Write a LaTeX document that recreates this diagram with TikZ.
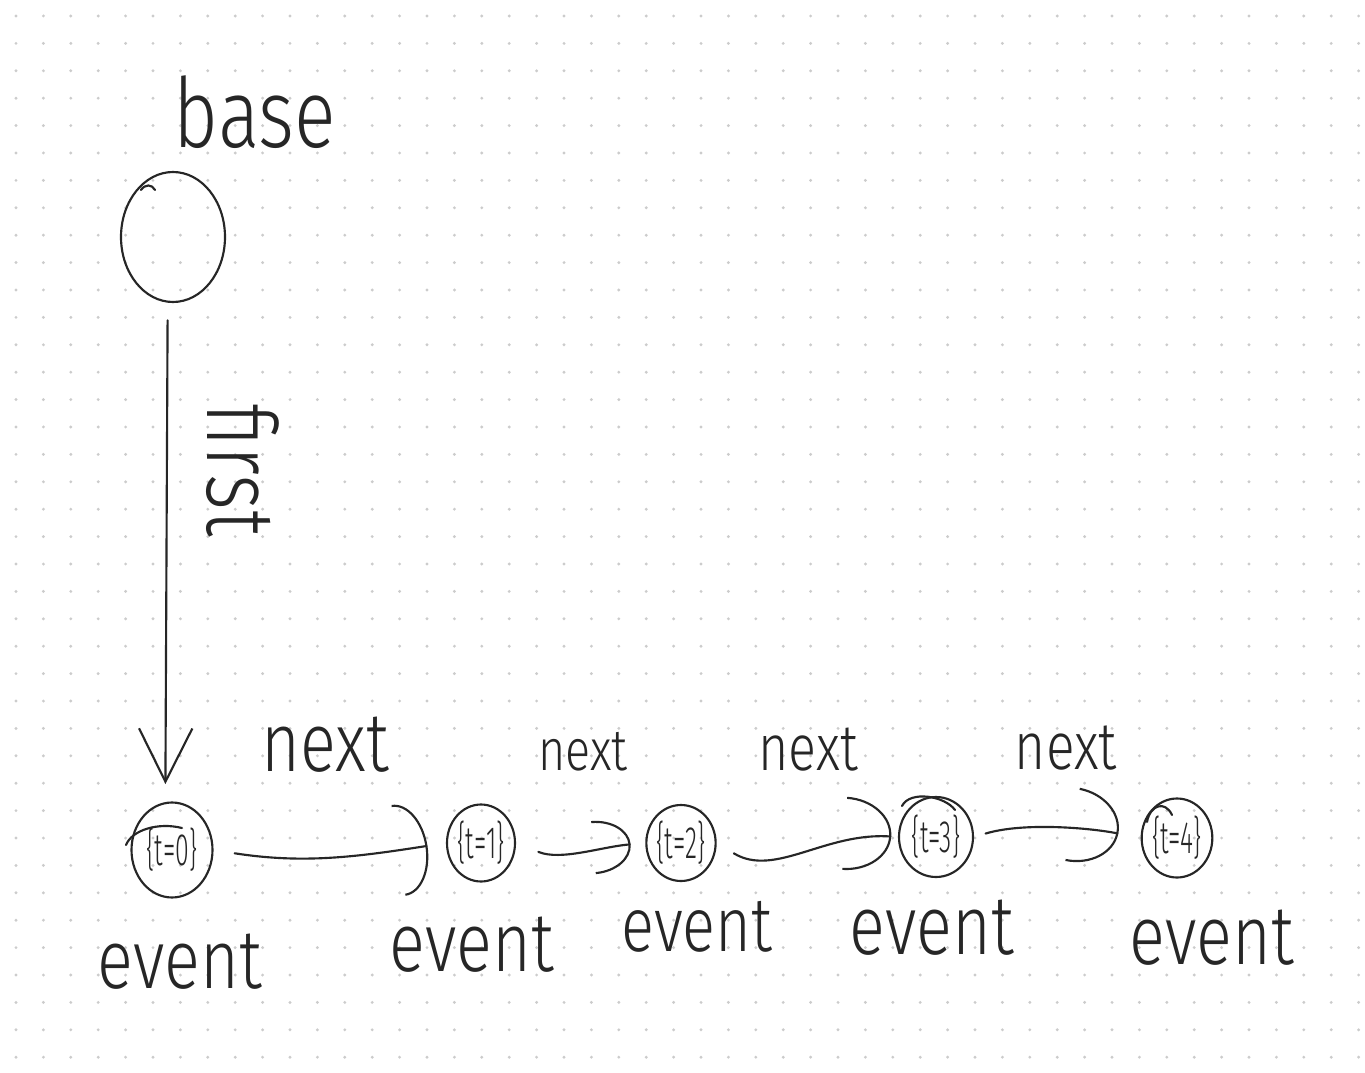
\documentclass[tikz,border=0pt]{standalone}
\usepackage{fontspec}
\newfontfamily\hand{Fira Sans Light}
\usetikzlibrary{arrows.meta,shapes.geometric}
\tikzset{
  ink/.style={line width=1.6pt, line cap=round, line join=round, draw=black!85},
  blob/.style={ink, ellipse, inner sep=0pt},
  hw/.style={inner sep=0pt, font=\hand, text=black!85},
  evlabel/.style={hw, font=\hand\fontsize{50}{56}\selectfont},
}
\newcommand\tallt[1]{\scalebox{1}[1.25]{#1}}
\newcommand\evt[1]{\scalebox{0.55}[1]{\fontsize{34}{34}\selectfont\{t=#1\}}}
\begin{document}
\begin{tikzpicture}[x=0.75pt,y=-0.75pt]
\fill[white] (0,0) rectangle (1365,1073);
\useasboundingbox (0,0) rectangle (1365,1073);
\foreach \i in {0,...,49}{\foreach \j in {0,...,38}{\fill[black!20] ({16+27.4*\i},{16+27.4*\j}) circle (1.2pt);}}

% nodes
\node[blob, minimum width=78pt, minimum height=97.5pt] (base) at (173,237) {};
\node[blob, minimum width=60.75pt, minimum height=71.25pt, hw] (e0) at (172,850) {\evt{0}};
\node[blob, minimum width=51pt, minimum height=57.75pt, hw] (e1) at (481,843) {\evt{1}};
\node[blob, minimum width=46.5pt, minimum height=57pt, hw] (e2) at (681,843) {\evt{2}};
\node[blob, minimum width=55.5pt, minimum height=60pt, hw] (e3) at (936,837) {\evt{3}};
\node[blob, minimum width=48pt, minimum height=59.25pt, hw] (e4) at (1177,838) {\evt{4}};

% labels
\node[hw, font=\hand\fontsize{58}{64}\selectfont] (basel) at (255,112) {\tallt{base}};
\node[hw, font=\hand\fontsize{58}{64}\selectfont, rotate=-90] (firstl) at (243,470) {\tallt{first}};
\node[hw, font=\hand\fontsize{50}{56}\selectfont] (n1) at (325,745) {\tallt{next}};
\node[hw, font=\hand\fontsize{35}{40}\selectfont] (n2) at (583,752) {\tallt{next}};
\node[hw, font=\hand\fontsize{39}{44}\selectfont] (n3) at (808,750) {\tallt{next}};
\node[hw, font=\hand\fontsize{40}{44}\selectfont] (n4) at (1066,748) {\tallt{next}};
\node[evlabel] (l0) at (180,962) {\tallt{event}};
\node[evlabel] (l1) at (472,945) {\tallt{event}};
\node[evlabel, font=\hand\fontsize{46}{52}\selectfont] (l2) at (697,927) {\tallt{event}};
\node[evlabel] (l3) at (932,928) {\tallt{event}};
\node[evlabel] (l4) at (1212,938) {\tallt{event}};

% connectors
\draw[ink, shorten <=13pt, shorten >=13pt, -{Straight Barb[length=40pt,width=40pt]}]
  ([xshift=-4pt]base.south) -- ([xshift=-5pt]e0.north);
\draw[ink, shorten <=16pt, shorten >=14pt, -{Arc Barb[width=69pt,length=22pt]}]
  (e0.east) .. controls +(90,14) and +(-90,14) .. (e1.west);
\draw[ink, shorten <=18pt, shorten >=11pt, -{Arc Barb[width=40pt,length=28pt]}]
  (e1.east) .. controls +(45,18) and +(-45,4) .. (e2.west);
\draw[ink, shorten <=15pt, shorten >=5pt, -{Arc Barb[width=55pt,length=35pt]}]
  (e2.east) .. controls +(58,35) and +(-73,-5) .. (e3.west);
\draw[ink, shorten <=9pt, shorten >=17pt, -{Arc Barb[width=56pt,length=35pt]}]
  (e3.east) .. controls +(50,-15) and +(-50,-10) .. (e4.west);

% small pen strokes
\draw[ink] (141,190) .. controls (145,184) and (152,184) .. (155,190);
\draw[ink] (126,845) .. controls (132,830) and (158,822) .. (182,828);
\draw[ink] (902,806) .. controls (910,790) and (945,796) .. (955,810);
\draw[ink] (1147,822) .. controls (1150,805) and (1165,800) .. (1172,815);
\end{tikzpicture}
\end{document}
